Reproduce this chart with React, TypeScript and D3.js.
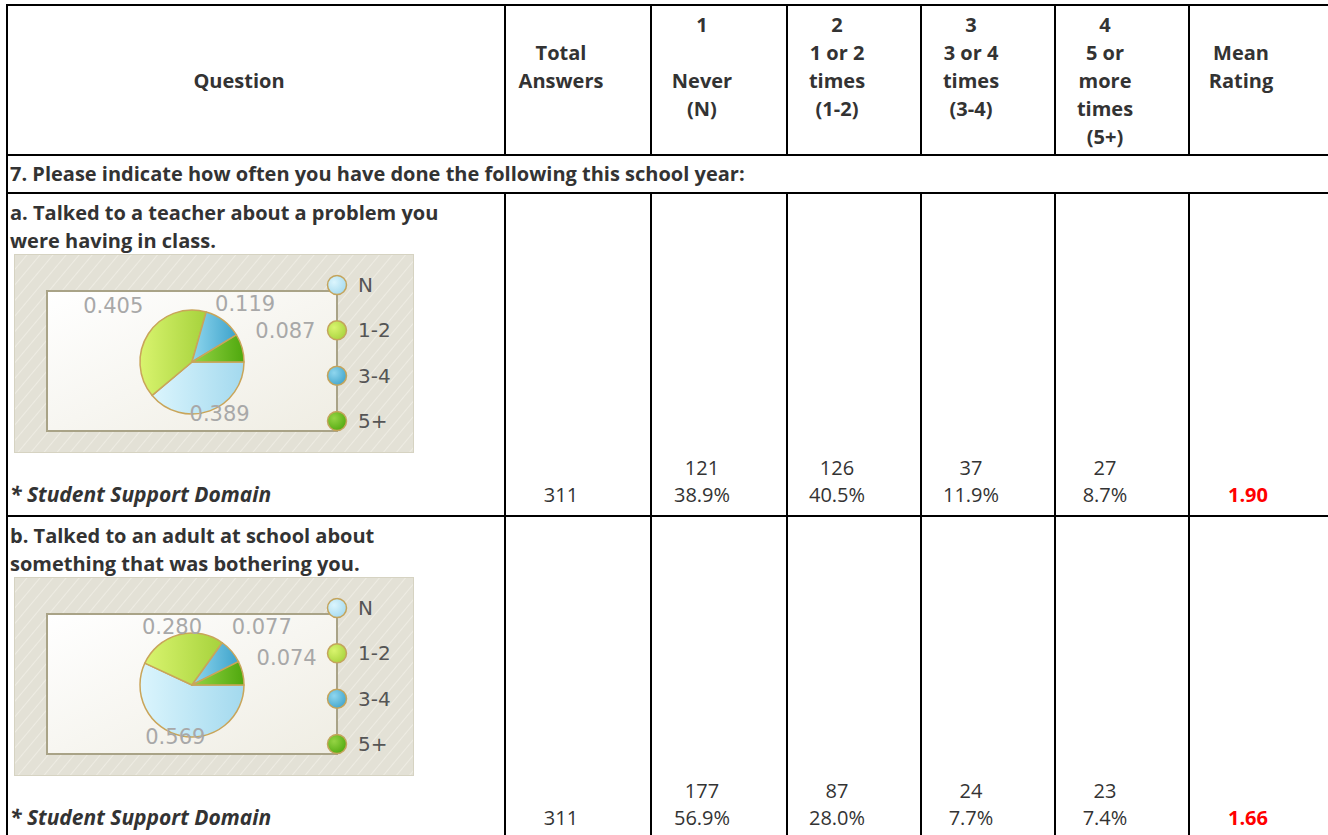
import React from "react";
import * as d3 from "d3";

// ---- data ----
const headerCols = [
  ["Question"],
  ["Total", "Answers"],
  ["1", "", "Never", "(N)"],
  ["2", "1 or 2", "times", "(1-2)"],
  ["3", "3 or 4", "times", "(3-4)"],
  ["4", "5 or", "more", "times", "(5+)"],
  ["Mean", "Rating"],
];
const headerStartLine = [2, 1, 0, 0, 0, 0, 1];
const sectionTitle = "7. Please indicate how often you have done the following this school year:";
const questionLines = [
  ["a. Talked to a teacher about a problem you", "were having in class."],
  ["b. Talked to an adult at school about", "something that was bothering you."],
];
const domainLabel = "* Student Support Domain";
const totals = [311, 311];
const counts = [
  [121, 126, 37, 27],
  [177, 87, 24, 23],
];
const percents = [
  ["38.9%", "40.5%", "11.9%", "8.7%"],
  ["56.9%", "28.0%", "7.7%", "7.4%"],
];
const means = ["1.90", "1.66"];
const pieValues = [
  [0.389, 0.405, 0.119, 0.087],
  [0.569, 0.28, 0.077, 0.074],
];
const legendKeys = ["N", "1-2", "3-4", "5+"];
const sliceColors = [
  ["#dbf5fd", "#a3d9ee"],
  ["#d9f46e", "#a6d23c"],
  ["#8fd6ee", "#3ea3cb"],
  ["#95d444", "#4fa80e"],
];

// ---- layout ----
const W = 1328;
const H = 835;
const colEdges = [7, 505, 651, 787, 921, 1055, 1189, 1327];
const rowTop = 5;
const headerBottom = 155;
const sectionBottom = 193;
const rowBottoms = [516, 845];
const FONT = "'Open Sans', 'Noto Sans', sans-serif";
const FS = 20;
const TXT = "#333";

function colCenter(i: number) {
  return (colEdges[i] + colEdges[i + 1]) / 2 - 17;
}

function PieChart({ x, y, values, idx }: { x: number; y: number; values: number[]; idx: number }) {
  const w = 400,
    h = 199;
  const plot = { x0: 33, y0: 37, x1: 323, y1: 177 };
  const cx = 178,
    cy = 108,
    r = 52;
  const pie = d3
    .pie<number>()
    .sort(null)
    .value((d) => d)
    .startAngle(Math.PI / 2)
    .endAngle(Math.PI / 2 + 2 * Math.PI);
  const arcs = pie(values);
  const arcGen = d3.arc<d3.PieArcDatum<number>>().innerRadius(0).outerRadius(r);
  const legendY = d3.scalePoint<string>().domain(legendKeys).range([31, 167]);
  const fmt = d3.format(".3f");
  return (
    <g transform={`translate(${x},${y})`}>
      <defs>
        <pattern id={`hatch${idx}`} width="10" height="10" patternUnits="userSpaceOnUse" patternTransform="rotate(40)">
          <rect width="10" height="10" fill="#e3e1d6" />
          <line x1="0" y1="0" x2="0" y2="10" stroke="#eeece3" strokeWidth="2" />
        </pattern>
        <linearGradient id={`plotg${idx}`} x1="0" y1="0" x2="1" y2="1">
          <stop offset="0" stopColor="#ffffff" />
          <stop offset="1" stopColor="#efede3" />
        </linearGradient>
        {sliceColors.map((c, i) => (
          <linearGradient key={i} id={`sg${idx}_${i}`} x1="0" y1="0" x2="1" y2="0">
            <stop offset="0" stopColor={c[0]} />
            <stop offset="1" stopColor={c[1]} />
          </linearGradient>
        ))}
        {sliceColors.map((c, i) => (
          <radialGradient key={i} id={`lg${idx}_${i}`} cx="0.35" cy="0.35" r="0.75">
            <stop offset="0" stopColor={c[0]} />
            <stop offset="1" stopColor={c[1]} />
          </radialGradient>
        ))}
      </defs>
      <rect x={0.5} y={0.5} width={w - 1} height={h - 1} fill={`url(#hatch${idx})`} stroke="#d6d3c2" />
      <rect
        x={plot.x0}
        y={plot.y0}
        width={plot.x1 - plot.x0}
        height={plot.y1 - plot.y0}
        fill={`url(#plotg${idx})`}
        stroke="#a9a387"
        strokeWidth={2}
      />
      <g transform={`translate(${cx},${cy})`}>
        {arcs.map((a, i) => (
          <path key={i} d={arcGen(a) || ""} fill={`url(#sg${idx}_${i})`} stroke="#c9a55a" strokeWidth={1.5} strokeLinejoin="round" />
        ))}
      </g>
      {arcs.map((a, i) => {
        const m = (a.startAngle + a.endAngle) / 2;
        const R = 72 + 26 * Math.abs(Math.sin(m));
        const lx = cx + R * Math.sin(m);
        const ly = Math.max(plot.y0 + 20, Math.min(plot.y1 - 10, cy - R * Math.cos(m) + 2));
        return (
          <text key={i} x={lx} y={ly} textAnchor="middle" fontFamily="'DejaVu Sans', sans-serif" fontSize={21} fill="#a8a8a8">
            {fmt(a.data)}
          </text>
        );
      })}
      <line x1={plot.x1} x2={plot.x1} y1={legendY(legendKeys[0])} y2={legendY(legendKeys[3])} stroke="#a9a387" strokeWidth={2} />
      {legendKeys.map((k, i) => (
        <g key={k}>
          <circle cx={plot.x1} cy={legendY(k)} r={9.5} fill={`url(#lg${idx}_${i})`} stroke="#c4a45c" strokeWidth={1.5} />
          <text x={plot.x1 + 21} y={(legendY(k) || 0) + 7} fontFamily="'DejaVu Sans', sans-serif" fontSize={20} fill="#555">
            {k}
          </text>
        </g>
      ))}
    </g>
  );
}

export default function App() {
  const lineYs = [25, 53, 81, 109, 137];
  const rowTops = [sectionBottom, rowBottoms[0]];
  return (
    <svg width={W} height={H} style={{ position: "absolute", left: 0, top: 0, display: "block" }} fontFamily={FONT}>
      <rect width={W} height={H} fill="#fff" />
      {headerCols.map((lines, c) =>
        lines.map((t, j) => (
          <text
            key={`${c}-${j}`}
            x={colCenter(c)}
            y={lineYs[headerStartLine[c] + j]}
            dy="0.35em"
            textAnchor="middle"
            fontWeight="bold"
            fontSize={FS}
            fill={TXT}
          >
            {t}
          </text>
        ))
      )}
      <text x={10} y={174} dy="0.35em" fontWeight="bold" fontSize={FS} fill={TXT}>
        {sectionTitle}
      </text>
      {questionLines.map((ql, qi) => {
        const top = rowTops[qi];
        return (
          <g key={qi}>
            {ql.map((t, j) => (
              <text key={j} x={10} y={top + 20 + j * 28} dy="0.35em" fontWeight="bold" fontSize={FS} fill={TXT}>
                {t}
              </text>
            ))}
            <PieChart x={14} y={top + 61} values={pieValues[qi]} idx={qi} />
            <text x={10} y={top + 302} dy="0.35em" fontWeight="bold" fontStyle="italic" fontSize={21} fill={TXT}>
              {domainLabel}
            </text>
            <text x={colCenter(1)} y={top + 302} dy="0.35em" textAnchor="middle" fontSize={FS} fill={TXT}>
              {totals[qi]}
            </text>
            {counts[qi].map((v, k) => (
              <g key={k}>
                <text x={colCenter(k + 2)} y={top + 275} dy="0.35em" textAnchor="middle" fontSize={FS} fill={TXT}>
                  {v}
                </text>
                <text x={colCenter(k + 2)} y={top + 302} dy="0.35em" textAnchor="middle" fontSize={FS} fill={TXT}>
                  {percents[qi][k]}
                </text>
              </g>
            ))}
            <text x={colCenter(6) + 7} y={top + 302} dy="0.35em" textAnchor="middle" fontWeight="bold" fontSize={FS} fill="#ff0000">
              {means[qi]}
            </text>
          </g>
        );
      })}
      <g stroke="#000" strokeWidth={2}>
        <line x1={colEdges[0] - 1} x2={W} y1={rowTop} y2={rowTop} />
        <line x1={colEdges[0]} x2={W} y1={headerBottom} y2={headerBottom} />
        <line x1={colEdges[0]} x2={W} y1={sectionBottom} y2={sectionBottom} />
        <line x1={colEdges[0]} x2={W} y1={rowBottoms[0]} y2={rowBottoms[0]} />
        <line x1={colEdges[0]} x2={colEdges[0]} y1={rowTop} y2={H} />
        {colEdges.slice(1, -1).map((x, i) => (
          <g key={i}>
            <line x1={x} x2={x} y1={rowTop} y2={headerBottom} />
            <line x1={x} x2={x} y1={sectionBottom} y2={H} />
          </g>
        ))}
      </g>
    </svg>
  );
}
